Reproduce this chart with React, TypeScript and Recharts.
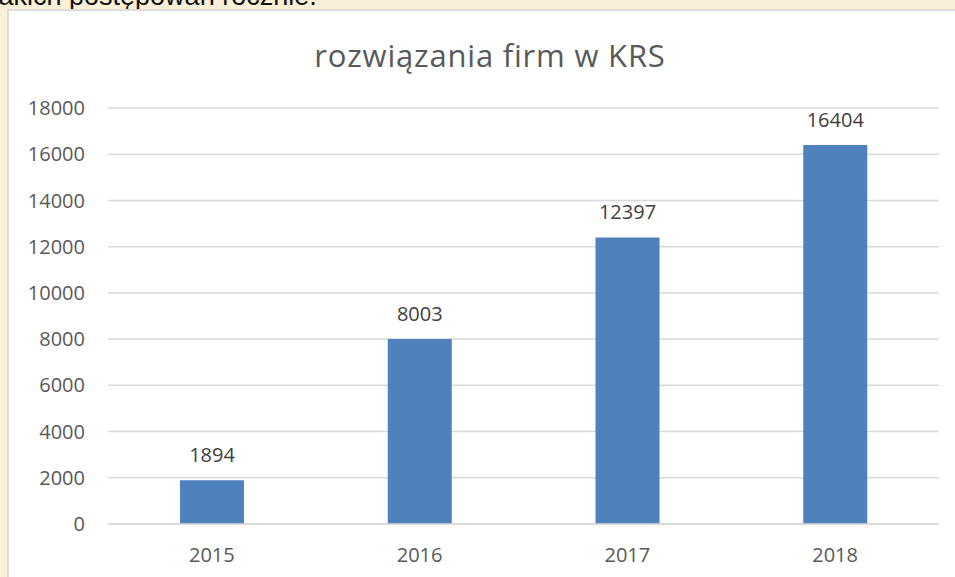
import React from "react";
import { BarChart, Bar, XAxis, YAxis, CartesianGrid, LabelList } from "recharts";

const categories = ["2015", "2016", "2017", "2018"];
const values = [1894, 8003, 12397, 16404];
const yTicks = [0, 2000, 4000, 6000, 8000, 10000, 12000, 14000, 16000, 18000];
const title = "rozwiązania firm w KRS";
const headerText = "takich postępowań rocznie.";

const data = categories.map((c, i) => ({ year: c, value: values[i] }));

const FONT = "'Open Sans', 'Liberation Sans', sans-serif";

export default function App() {
  return (
    <div
      style={{
        position: "fixed",
        left: 0,
        top: 0,
        width: 955,
        height: 577,
        overflow: "hidden",
        background: "#FAF0D8",
        fontFamily: FONT,
      }}
    >
      <div
        style={{
          position: "absolute",
          left: -9,
          top: -17,
          fontFamily: "'Liberation Sans', Arial, sans-serif",
          fontSize: 27,
          lineHeight: "27px",
          color: "#111",
          whiteSpace: "nowrap",
        }}
      >
        {headerText}
      </div>
      <div
        style={{
          position: "absolute",
          left: 7,
          top: 9,
          width: 980,
          height: 600,
          background: "#fff",
          border: "2px solid #dcdcdc",
          boxSizing: "border-box",
        }}
      />
      <div
        style={{
          position: "absolute",
          left: 240,
          top: 40,
          width: 500,
          textAlign: "center",
          fontSize: 31,
          lineHeight: "31px",
          letterSpacing: 0.8,
          color: "#595959",
          whiteSpace: "nowrap",
        }}
      >
        {title}
      </div>
      <div style={{ position: "absolute", left: 0, top: 0 }}>
        <BarChart
          width={955}
          height={577}
          data={data}
          margin={{ top: 108, right: 16, bottom: 13, left: 8 }}
        >
          <CartesianGrid vertical={false} stroke="#d9d9d9" strokeWidth={1.5} />
          <XAxis
            dataKey="year"
            height={40}
            tickLine={false}
            tickSize={0}
            tickMargin={24}
            axisLine={{ stroke: "#d9d9d9", strokeWidth: 1.5 }}
            tick={{ fill: "#595959", fontSize: 20, fontFamily: FONT }}
          />
          <YAxis
            width={100}
            domain={[0, 18000]}
            ticks={yTicks}
            interval={0}
            tickLine={false}
            axisLine={false}
            tickSize={0}
            tickMargin={23}
            tick={{ fill: "#595959", fontSize: 20, fontFamily: FONT }}
          />
          <Bar dataKey="value" fill="#4F81BD" barSize={64} isAnimationActive={false}>
            <LabelList
              dataKey="value"
              position="top"
              offset={18}
              fill="#404040"
              fontSize={20}
              fontFamily={FONT}
            />
          </Bar>
        </BarChart>
      </div>
    </div>
  );
}
